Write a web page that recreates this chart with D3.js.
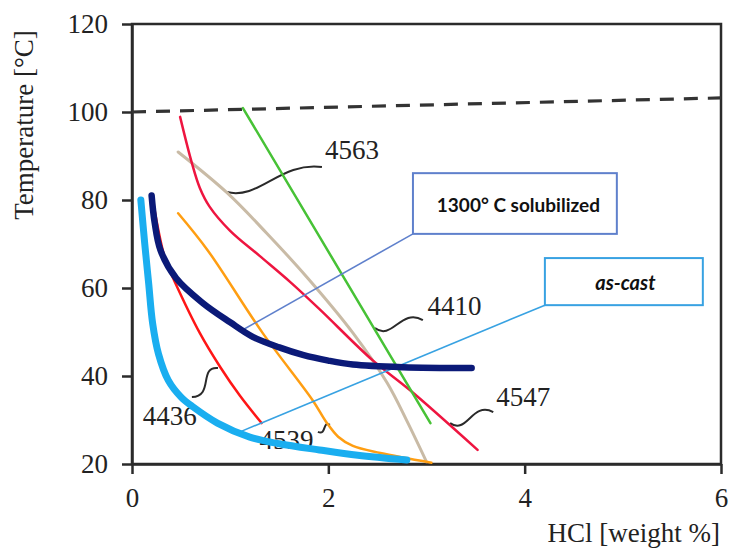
<!DOCTYPE html>
<html>
<head>
<meta charset="utf-8">
<script src="https://cdn.jsdelivr.net/npm/d3@7"></script>
<style>
  html, body { margin: 0; padding: 0; background: #fff; }
  svg { display: block; }
</style>
</head>
<body>
<svg id="chart" width="729" height="553"></svg>
<script>
// ---- data: [HCl weight %, temperature °C] ----
const xTicks = [0, 2, 4, 6];
const yTicks = [20, 40, 60, 80, 100, 120];

const boilingLine = [[0, 100], [6, 103.2]];

const alloy4410 = [[1.13, 100.9], [3.04, 29.3]];
const alloy4547 = [[0.49, 98.9], [0.61, 88.4], [0.69, 82.8], [0.79, 78.5], [1.0, 73.0], [1.3, 67.3], [1.61, 61.4], [1.91, 55.2], [2.45, 43.6], [2.83, 36.8], [3.52, 23.2]];
const alloy4563 = [[0.47, 90.9], [0.97, 81.6], [1.37, 72.5], [1.78, 62.5], [2.25, 49.8], [2.6, 38.4], [2.8, 29.8], [3.0, 20.5]];
const alloy4539 = [[0.47, 77], [0.77, 68.6], [1.33, 49.8], [1.84, 34.5], [1.98, 29.5], [2.1, 26.2], [2.25, 24.1], [2.53, 22.5], [3.05, 20.3]];
const alloy4436 = [[0.22, 79], [0.34, 66.4], [0.44, 61.2], [0.69, 49.8], [0.9, 42], [1.1, 35.5], [1.32, 29.3]];
const solubilized = [[0.2, 81], [0.23, 75], [0.29, 68.6], [0.45, 62.2], [0.72, 56.6], [1.0, 52.2], [1.23, 48.9], [1.5, 46.5], [1.74, 44.8], [2.0, 43.5], [2.25, 42.6], [2.76, 42], [3.46, 41.8]];
const asCast = [[0.09, 80], [0.13, 70], [0.17, 61], [0.21, 52], [0.27, 45], [0.37, 39], [0.5, 35.2], [0.62, 33], [0.87, 29.3], [1.2, 26.1], [1.5, 24.6], [1.91, 23.2], [2.3, 22], [2.8, 20.9]];

// alloy labels: text, text anchor point, squiggle from curve to label
const alloyLabels = ["4563", "4410", "4547", "4436", "4539"];
const labelAt = [[1.965, 89.3], [3.01, 53.9], [3.71, 33.2], [0.11, 28.9], [1.30, 23.4]];
const squiggleFrom = [[0.967, 81.8], [2.475, 50.9], [3.24, 29.3], [0.876, 41.8], [2.016, 28.9]];
const squiggleTo = [[1.935, 87.5], [2.963, 52.7], [3.68, 31.8], [0.61, 35.2], [1.894, 27.3]];

// condition callouts: text, box corners (top-left, bottom-right), leader target
const calloutText = ["1300\u00b0 C solubilized", "as-cast"];
const calloutBoxTL = [[2.862, 86.1], [4.206, 66.8]];
const calloutBoxBR = [[4.939, 72.3], [5.815, 56.1]];
const calloutTarget = [[1.13, 50.5], [1.10, 27.3]];

// ---- layout ----
const svg = d3.select("#chart");
const plotLeft = 132, plotRight = 721, plotTop = 24, plotBottom = 464;

const x = d3.scaleLinear().domain([0, 6]).range([plotLeft, plotRight]);
const y = d3.scaleLinear().domain([20, 120]).range([plotBottom, plotTop]);

const serif = "'Liberation Serif', 'DejaVu Serif', serif";
const axisColor = "#2b2b2b";
const textColor = "#222";

// frame
svg.append("rect")
  .attr("x", plotLeft).attr("y", plotTop)
  .attr("width", plotRight - plotLeft).attr("height", plotBottom - plotTop)
  .attr("fill", "none").attr("stroke", axisColor).attr("stroke-width", 2.5);

// axes
const yAxis = svg.append("g")
  .attr("transform", `translate(${plotLeft},0)`)
  .call(d3.axisLeft(y).tickValues(yTicks).tickFormat(d3.format("d"))
    .tickSize(10).tickSizeOuter(0).tickPadding(14));
const xAxis = svg.append("g")
  .attr("transform", `translate(0,${plotBottom})`)
  .call(d3.axisBottom(x).tickValues(xTicks).tickFormat(d3.format("d"))
    .tickSize(10).tickSizeOuter(0).tickPadding(14));

[yAxis, xAxis].forEach(g => {
  g.select(".domain").attr("stroke", axisColor).attr("stroke-width", 2.5);
  g.selectAll(".tick line").attr("stroke", axisColor).attr("stroke-width", 2.5);
  g.selectAll(".tick text")
    .attr("font-family", serif).attr("font-size", 27).attr("fill", textColor);
});
yAxis.selectAll(".tick text").attr("dy", "0.33em");
xAxis.selectAll(".tick text").attr("dy", "0.7em");

// axis titles
svg.append("text")
  .attr("transform", "translate(33,125) rotate(-90)")
  .attr("text-anchor", "middle")
  .attr("font-family", serif).attr("font-size", 27).attr("fill", textColor)
  .text("Temperature [\u00b0C]");
svg.append("text")
  .attr("x", 720).attr("y", 542)
  .attr("text-anchor", "end")
  .attr("font-family", serif).attr("font-size", 27).attr("fill", textColor)
  .text("HCl [weight %]");

// curves
const straight = d3.line().x(d => x(d[0])).y(d => y(d[1]));
const smooth = d3.line().x(d => x(d[0])).y(d => y(d[1])).curve(d3.curveCatmullRom.alpha(0.5));

svg.append("path").datum(boilingLine).attr("d", straight)
  .attr("fill", "none").attr("stroke", "#333").attr("stroke-width", 3.2)
  .attr("stroke-dasharray", "14,10");

function curve(data, color, width) {
  svg.append("path").datum(data).attr("d", smooth)
    .attr("fill", "none").attr("stroke", color)
    .attr("stroke-width", width).attr("stroke-linecap", "round");
}

// squiggle leaders and alloy labels
function squiggle(a, b) {
  const ax = x(a[0]), ay = y(a[1]), bx = x(b[0]), by = y(b[1]);
  const dx = bx - ax, dy = by - ay;
  const len = Math.hypot(dx, dy);
  const nx = -dy / len, ny = dx / len;
  const amp = Math.min(10, len * 0.35);
  const p = d3.path();
  p.moveTo(ax, ay);
  p.bezierCurveTo(ax + dx * 0.3 + nx * amp * 1.6, ay + dy * 0.3 + ny * amp * 1.6,
                  ax + dx * 0.6 - nx * amp * 1.6, ay + dy * 0.6 - ny * amp * 1.6,
                  bx, by);
  return p.toString();
}

alloyLabels.forEach((t, i) => {
  svg.append("path").attr("d", squiggle(squiggleFrom[i], squiggleTo[i]))
    .attr("fill", "none").attr("stroke", "#2a2a2a").attr("stroke-width", 2);
});

curve(alloy4563, "#c9bba6", 3);
curve(alloy4547, "#ee1540", 2.5);
curve(alloy4410, "#47c236", 2.5);
curve(alloy4539, "#ff9e12", 2.5);
curve(alloy4436, "#ff1616", 2.5);

alloyLabels.forEach((t, i) => {
  svg.append("text")
    .attr("x", x(labelAt[i][0])).attr("y", y(labelAt[i][1]))
    .attr("font-family", serif).attr("font-size", 27).attr("fill", textColor)
    .text(t);
});

// callout leaders
const calloutColor = ["#5f80cc", "#38a2e2"];
calloutText.forEach((t, i) => {
  svg.append("line")
    .attr("x1", x(calloutBoxTL[i][0])).attr("y1", y(calloutBoxBR[i][1]))
    .attr("x2", x(calloutTarget[i][0])).attr("y2", y(calloutTarget[i][1]))
    .attr("stroke", calloutColor[i]).attr("stroke-width", 1.6);
});

curve(solubilized, "#0b1a78", 6.5);
curve(asCast, "#1aaef0", 7);

// callout boxes
calloutText.forEach((t, i) => {
  const x0 = x(calloutBoxTL[i][0]), y0 = y(calloutBoxTL[i][1]);
  const x1 = x(calloutBoxBR[i][0]), y1 = y(calloutBoxBR[i][1]);
  svg.append("rect")
    .attr("x", x0).attr("y", y0).attr("width", x1 - x0).attr("height", y1 - y0)
    .attr("fill", "#fff").attr("stroke", calloutColor[i]).attr("stroke-width", 2);
  svg.append("text")
    .attr("x", (x0 + x1) / 2 + (i === 0 ? 3.5 : 1.5)).attr("y", (y0 + y1) / 2 + 8)
    .attr("text-anchor", "middle")
    .attr("font-family", "Lato, 'Liberation Sans', sans-serif")
    .attr("font-weight", "bold")
    .attr("font-style", i === 1 ? "italic" : "normal")
    .attr("font-size", i === 0 ? 19 : 20)
    .attr("fill", "#111")
    .text(t);
});
</script>
</body>
</html>
